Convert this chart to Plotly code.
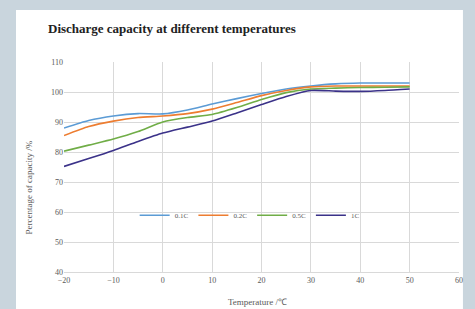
import plotly.graph_objects as go

temps = [-20, -15, -10, -5, 0, 5, 10, 15, 20, 25, 30, 35, 40, 45, 50]
c01 = [88.0, 90.5, 92.0, 92.8, 92.7, 94.0, 96.0, 97.8, 99.5, 101.0, 102.0, 102.7, 103.0, 103.0, 103.0]
c02 = [85.5, 88.5, 90.3, 91.5, 92.0, 92.8, 94.3, 96.5, 98.8, 100.5, 101.7, 102.0, 102.0, 102.0, 102.0]
c05 = [80.3, 82.3, 84.3, 86.8, 90.0, 91.5, 92.5, 94.8, 97.5, 99.8, 101.0, 101.3, 101.5, 101.6, 101.7]
c1 = [75.2, 77.8, 80.5, 83.5, 86.3, 88.3, 90.3, 93.0, 95.8, 98.5, 100.5, 100.3, 100.2, 100.5, 101.0]
series_names = ["0.1C", "0.2C", "0.5C", "1C"]
colors = ["#5b9bd5", "#ed7d31", "#70ad47", "#3b3289"]

fig = go.Figure()
for name, vals, col in zip(series_names, [c01, c02, c05, c1], colors):
    fig.add_trace(go.Scatter(x=temps, y=vals, name=name, mode="lines",
                             line=dict(color=col, width=1.6, shape="spline", smoothing=0.6)))

serif = "Liberation Serif"
fig.update_layout(
    width=475, height=309,
    margin=dict(l=64, r=16, t=62, b=37),
    paper_bgcolor="#c9d5dd",
    plot_bgcolor="white",
    showlegend=True,
    legend=dict(orientation="h", x=0.47, y=0.27, xanchor="center", yanchor="middle",
                bgcolor="rgba(0,0,0,0)", font=dict(family=serif, size=7, color="#595959"),
                itemwidth=30, tracegroupgap=0),
    xaxis=dict(range=[-20, 60], dtick=10, tick0=-20, showgrid=True, gridcolor="#d9d9d9",
               zeroline=False, showline=True, linecolor="#d9d9d9",
               tickfont=dict(family=serif, size=8, color="#595959"), ticks=""),
    yaxis=dict(range=[40, 110], dtick=10, showgrid=True, gridcolor="#d9d9d9",
               zeroline=False, showline=False,
               tickfont=dict(family=serif, size=8, color="#595959"), ticks=""),
    shapes=[dict(type="rect", xref="paper", yref="paper", x0=-0.1215, x1=1.010,
                 y0=-0.2, y1=1.2476, fillcolor="white", line=dict(width=0), layer="below")],
    annotations=[
        dict(text="<b>Discharge capacity at different temperatures</b>", xref="paper", yref="paper",
             x=-0.045, y=1.16, xanchor="left", yanchor="middle", showarrow=False,
             font=dict(family=serif, size=13, color="#222222")),
        dict(text="Percentage of capacity /%", xref="paper", yref="paper", x=-0.09, y=0.405,
             textangle=-90, xanchor="center", yanchor="middle", showarrow=False,
             font=dict(family=serif, size=9, color="#595959")),
        dict(text="Temperature /℃", xref="paper", yref="paper", x=0.49, y=-0.145,
             xanchor="center", yanchor="middle", showarrow=False,
             font=dict(family=serif, size=9, color="#595959")),
    ],
)
fig.write_html("out.html", config={"displayModeBar": False},
               post_script="document.body.style.margin='0';document.body.style.overflow='hidden';")
